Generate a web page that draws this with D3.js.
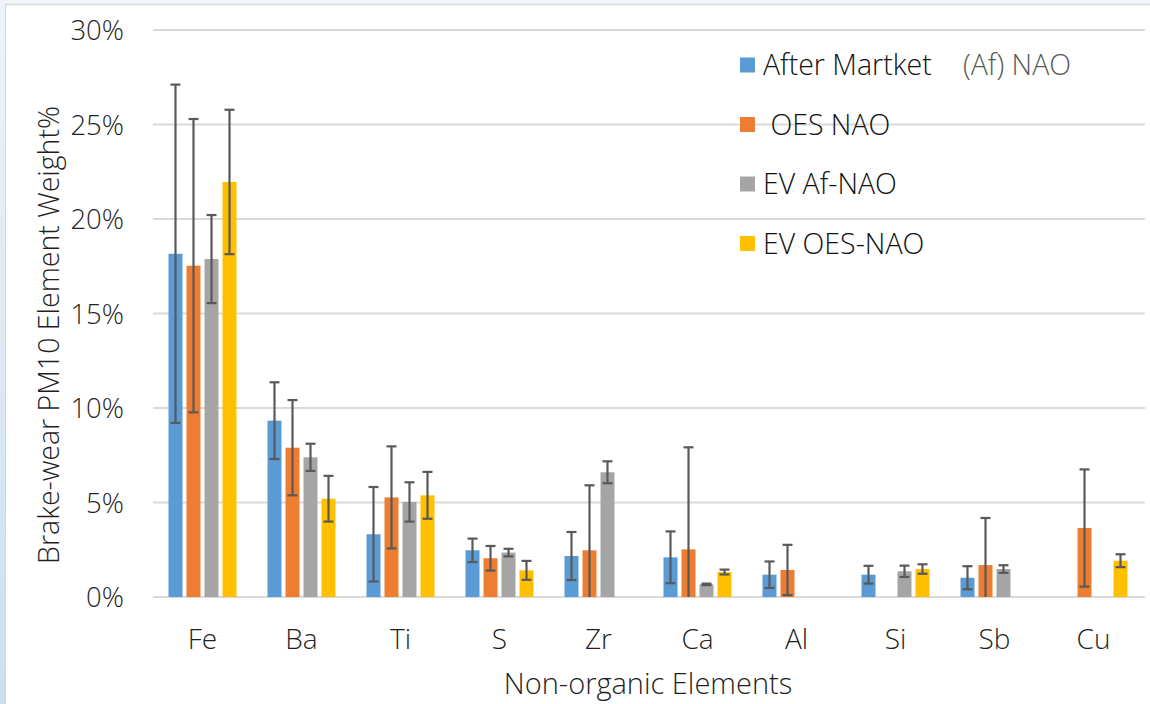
<!DOCTYPE html>
<html>
<head>
<meta charset="utf-8">
<script src="https://cdn.jsdelivr.net/npm/d3@7"></script>
<style>
  html, body { margin: 0; padding: 0; background: #ffffff; }
  svg { display: block; }
  text { font-family: "Open Sans", Lato, sans-serif; font-weight: 300; }
</style>
</head>
<body>
<svg id="chart" width="1150" height="704"></svg>
<script>
const categories = ["Fe", "Ba", "Ti", "S", "Zr", "Ca", "Al", "Si", "Sb", "Cu"];
const seriesNames = ["After Martket   (Af) NAO", " OES NAO", "EV Af-NAO", "EV OES-NAO"];
const seriesColors = ["#5B9BD5", "#ED7D31", "#A5A5A5", "#FFC000"];
// values in % (null = no bar)
const afNAO    = [18.16, 9.33, 3.32, 2.47, 2.17, 2.10, 1.18, 1.18, 1.02, null];
const oesNAO   = [17.53, 7.90, 5.27, 2.05, 2.47, 2.52, 1.43, null, 1.69, 3.65];
const evAfNAO  = [17.88, 7.39, 5.03, 2.35, 6.60, 0.67, null, 1.36, 1.48, null];
const evOesNAO = [21.96, 5.20, 5.38, 1.41, null, 1.32, null, 1.48, null, 1.92];
// symmetric error (±, in %)
const afErr    = [8.95, 2.03, 2.50, 0.62, 1.27, 1.37, 0.70, 0.47, 0.61, null];
const oesErr   = [7.76, 2.52, 2.70, 0.65, 3.44, 5.40, 1.33, null, 2.49, 3.10];
const evAfErr  = [2.33, 0.72, 1.04, 0.20, 0.58, 0.04, null, 0.30, 0.20, null];
const evOesErr = [3.82, 1.21, 1.24, 0.50, null, 0.13, null, 0.25, null, 0.34];
const yTicks = [0, 5, 10, 15, 20, 25, 30];

const seriesValues = [afNAO, oesNAO, evAfNAO, evOesNAO];
const seriesErrors = [afErr, oesErr, evAfErr, evOesErr];

const svg = d3.select("#chart");
const FONT = "\"Open Sans\", Lato, sans-serif";

// frame / background
const grad = svg.append("defs").append("linearGradient").attr("id", "lg").attr("x1", 0).attr("y1", 0).attr("x2", 0).attr("y2", 1);
grad.append("stop").attr("offset", "0%").attr("stop-color", "#edf3f9");
grad.append("stop").attr("offset", "100%").attr("stop-color", "#cddfee");
svg.append("rect").attr("x", 0).attr("y", 0).attr("width", 1150).attr("height", 4).attr("fill", "#f1f5f9");
svg.append("rect").attr("x", 0).attr("y", 0).attr("width", 5).attr("height", 704).attr("fill", "url(#lg)");
svg.append("line").attr("x1", 5.5).attr("x2", 5.5).attr("y1", 4).attr("y2", 704).attr("stroke", "#d0d7de").attr("stroke-width", 1);
svg.append("line").attr("x1", 5).attr("x2", 1150).attr("y1", 4.5).attr("y2", 4.5).attr("stroke", "#d9d9d9").attr("stroke-width", 1.5);

const x = d3.scaleBand().domain(categories).range([153, 1143]).paddingInner(0).paddingOuter(0);
const groupW = 68;
const xs = d3.scaleBand().domain(d3.range(4)).range([(x.bandwidth() - groupW) / 2, (x.bandwidth() + groupW) / 2]).paddingInner(4 / 18);
const y = d3.scaleLinear().domain([0, 30]).range([597, 30]);

// gridlines
svg.append("g").selectAll("line").data(yTicks).join("line")
  .attr("x1", 153).attr("x2", 1145)
  .attr("y1", d => y(d)).attr("y2", d => y(d))
  .attr("stroke", "#d9d9d9").attr("stroke-width", 2);

// y axis labels
const yAxis = d3.axisLeft(y).tickValues(yTicks).tickFormat(d => d + "%").tickSize(0).tickPadding(0);
const yg = svg.append("g").attr("transform", "translate(124,0)").call(yAxis);
yg.select(".domain").remove();
yg.selectAll("text").attr("font-size", 27.5).attr("fill", "#1f1f1f").attr("font-family", FONT).attr("font-weight", 300).attr("dy", "0.36em");

// x axis labels
const xAxis = d3.axisBottom(x).tickSize(0).tickPadding(0);
const xg = svg.append("g").attr("transform", "translate(0,649)").call(xAxis);
xg.select(".domain").remove();
xg.selectAll("text").attr("font-size", 28).attr("fill", "#1f1f1f").attr("font-family", FONT).attr("font-weight", 300).attr("y", 0).attr("dy", 0);

// bars
const rows = [];
seriesValues.forEach((vals, si) => {
  vals.forEach((v, ci) => {
    if (v !== null) rows.push({ si, cat: categories[ci], v, e: seriesErrors[si][ci] });
  });
});
svg.append("g").selectAll("rect").data(rows).join("rect")
  .attr("x", d => x(d.cat) + xs(d.si))
  .attr("width", xs.bandwidth())
  .attr("y", d => y(d.v))
  .attr("height", d => y(0) - y(d.v))
  .attr("fill", d => seriesColors[d.si]);

// error bars
const eg = svg.append("g").attr("stroke", "#595959").attr("stroke-width", 2.2);
const erows = rows.filter(d => d.e !== null);
const cx = d => x(d.cat) + xs(d.si) + xs.bandwidth() / 2;
const lo = d => Math.max(0, d.v - d.e);
const hi = d => d.v + d.e;
eg.selectAll("line.v").data(erows).join("line").attr("class", "v")
  .attr("x1", cx).attr("x2", cx).attr("y1", d => y(hi(d))).attr("y2", d => y(lo(d)));
eg.selectAll("line.t").data(erows).join("line").attr("class", "t")
  .attr("x1", d => cx(d) - 5).attr("x2", d => cx(d) + 5).attr("y1", d => y(hi(d))).attr("y2", d => y(hi(d)));
eg.selectAll("line.b").data(erows.filter(d => d.v - d.e > 0)).join("line").attr("class", "b")
  .attr("x1", d => cx(d) - 5).attr("x2", d => cx(d) + 5).attr("y1", d => y(lo(d))).attr("y2", d => y(lo(d)));

// axis titles
svg.append("text").attr("x", 648).attr("y", 694).attr("text-anchor", "middle")
  .attr("font-size", 29).attr("fill", "#1f1f1f").text("Non-organic Elements");
svg.append("text").attr("transform", "translate(59,335) rotate(-90)").attr("text-anchor", "middle")
  .attr("font-size", 28.5).attr("fill", "#1f1f1f").text("Brake-wear PM10 Element Weight%");

// legend
const legendY = [65, 124.5, 184, 243.5];
const lg = svg.append("g");
seriesNames.forEach((name, i) => {
  lg.append("rect").attr("x", 740).attr("y", legendY[i] - 7.5).attr("width", 15).attr("height", 15).attr("fill", seriesColors[i]);
});
const legendText = lg.selectAll("text").data(seriesNames).join("text")
  .attr("x", 763).attr("y", (d, i) => legendY[i]).attr("dy", "0.36em")
  .attr("font-size", 28.5).attr("fill", "#111111").attr("xml:space", "preserve");
legendText.each(function(d, i) {
  const t = d3.select(this);
  if (i === 0) {
    const parts = d.split("   ");
    t.append("tspan").text(parts[0]);
    t.append("tspan").attr("x", 963).attr("fill", "#595959").text(parts[1]);
  } else {
    t.text(d);
  }
});
</script>
</body>
</html>
